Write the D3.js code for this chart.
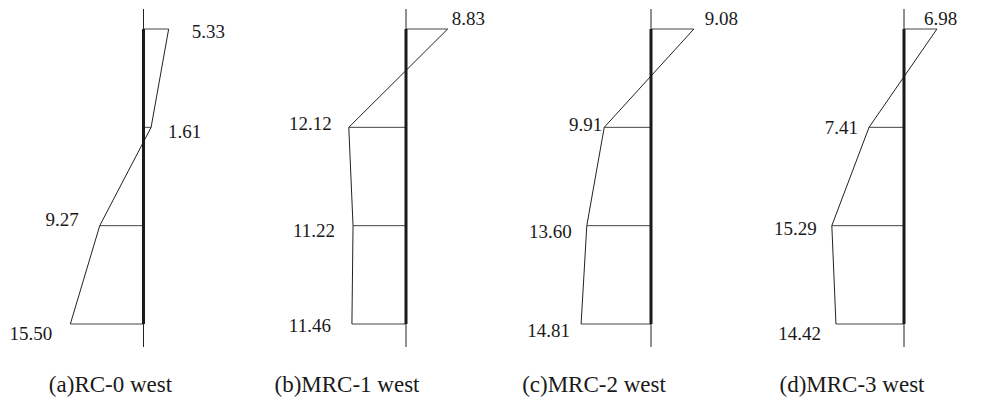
<!DOCTYPE html>
<html>
<head>
<meta charset="utf-8">
<script src="https://cdn.jsdelivr.net/npm/d3@7"></script>
<style>
  html, body { margin: 0; padding: 0; background: #fff; }
  svg { display: block; }
  text { font-family: "Liberation Serif", "Times New Roman", serif; fill: #1a1a1a; }
</style>
</head>
<body>
<svg id="chart" width="987" height="401"></svg>
<script>
// Storey levels, listed from the top of the wall down to the base
const levels = ["top", "level3", "level2", "base"];

// Panel titles
const panelTitles = ["(a)RC-0 west", "(b)MRC-1 west", "(c)MRC-2 west", "(d)MRC-3 west"];

// Distribution values per level (positive = right of the wall line, negative = left)
const rc0West  = [5.33, 1.61, -9.27, -15.50];
const mrc1West = [8.83, -12.12, -11.22, -11.46];
const mrc2West = [9.08, -9.91, -13.60, -14.81];
const mrc3West = [6.98, -7.41, -15.29, -14.42];

const seriesList = [rc0West, mrc1West, mrc2West, mrc3West];

// Layout: wall line position of each panel and title offset from it
const panelAxisX = [143.5, 406, 651, 904];
const titleShift = [-33, -59, -57, -52];

// Label nudges [dx, dy] relative to each profile point, per panel
const labelNudge = [
  [[23, 9], [17, 11], [-21, 0], [-18, 16]],
  [[4, -4], [-17, 3], [-18, 11], [-21, 8]],
  [[11, -4], [-2, 4], [-15, 12], [-11, 13]],
  [[-13, -4], [-11, 7], [-15, 9], [-15, 16]]
];

const svg = d3.select("#chart");

const yScale = d3.scalePoint().domain(levels).range([29, 324]);
const pxPerUnit = 4.72;
const axisTop = 9, axisBottom = 347;

seriesList.forEach((values, p) => {
  const cx = panelAxisX[p];
  const xScale = d3.scaleLinear()
    .domain([-16, 16])
    .range([cx - 16 * pxPerUnit, cx + 16 * pxPerUnit]);

  const pts = values.map((v, i) => ({ v, level: levels[i], x: xScale(v), y: yScale(levels[i]) }));
  const g = svg.append("g");

  // thin reference axis
  g.append("line")
    .attr("x1", xScale(0)).attr("x2", xScale(0))
    .attr("y1", axisTop).attr("y2", axisBottom)
    .attr("stroke", "#222").attr("stroke-width", 1);

  // level lines from the wall to each value
  g.selectAll("line.level").data(pts).join("line")
    .attr("class", "level")
    .attr("x1", xScale(0)).attr("x2", d => d.x)
    .attr("y1", d => d.y).attr("y2", d => d.y)
    .attr("stroke", "#444").attr("stroke-width", 1);

  // profile line connecting values
  g.append("path")
    .datum(pts)
    .attr("d", d3.line().x(d => d.x).y(d => d.y))
    .attr("fill", "none")
    .attr("stroke", "#222").attr("stroke-width", 1);

  // thick wall line
  g.append("line")
    .attr("x1", xScale(0)).attr("x2", xScale(0))
    .attr("y1", yScale(levels[0])).attr("y2", yScale(levels[levels.length - 1]))
    .attr("stroke", "#1a1a1a").attr("stroke-width", 3);

  // value labels
  g.selectAll("text.val").data(pts).join("text")
    .attr("class", "val")
    .attr("x", (d, i) => d.x + labelNudge[p][i][0])
    .attr("y", (d, i) => d.y + labelNudge[p][i][1])
    .attr("text-anchor", (d, i) => labelNudge[p][i][0] >= 0 || i === 0 ? "start" : "end")
    .attr("font-size", 19)
    .text(d => Math.abs(d.v).toFixed(2));

  // panel title
  g.append("text")
    .attr("x", xScale(0) + titleShift[p])
    .attr("y", 392)
    .attr("text-anchor", "middle")
    .attr("font-size", 23)
    .text(panelTitles[p]);
});
</script>
</body>
</html>
